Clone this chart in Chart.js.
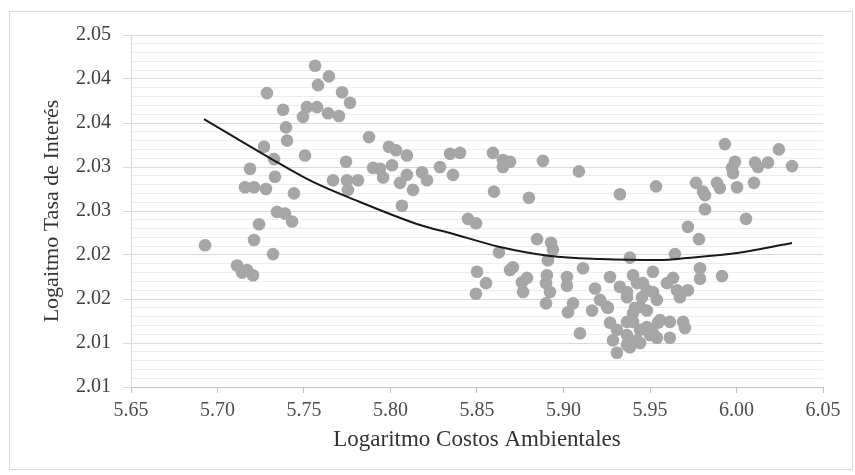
<!DOCTYPE html>
<html lang="es">
<head>
<meta charset="utf-8">
<title>Logaritmo Tasa de Interés vs Costos Ambientales</title>
<script src="https://cdn.jsdelivr.net/npm/chart.js@4.4.1/dist/chart.umd.min.js"></script>
<style>
    html, body { margin: 0; padding: 0; background: #fff; }
    canvas { display: block; }
</style>
</head>
<body>
<canvas id="scatterChart" width="855" height="475"></canvas>
<script>
// Datos
const costosX = [
    5.6928, 5.7113, 5.7142, 5.7170, 5.7205, 5.7211, 5.7321, 5.7159, 5.7211, 5.7240,
    5.7188, 5.7269, 5.7286, 5.7327, 5.7332, 5.7280, 5.7344, 5.7390, 5.7431, 5.7442,
    5.7379, 5.7396, 5.7402, 5.7494, 5.7517, 5.7575, 5.7564, 5.7644, 5.7581, 5.7720,
    5.7766, 5.7639, 5.7702, 5.7506, 5.7668, 5.7748, 5.7812, 5.7754, 5.7743, 5.7876,
    5.7991, 5.8032, 5.8095, 5.7899, 5.7939, 5.8009, 5.8095, 5.7957, 5.8055, 5.8130,
    5.8066, 5.8344, 5.8402, 5.8592, 5.8650, 5.8691, 5.8650, 5.8881, 5.9089, 5.8182,
    5.8211, 5.8286, 5.8361, 5.8598, 5.8800, 5.9326, 5.9535, 5.8448, 5.8494, 5.8847,
    5.8928, 5.8939, 5.8627, 5.8910, 5.9384, 5.9113, 5.8500, 5.8552, 5.8494, 5.8691,
    5.8708, 5.8760, 5.8789, 5.8766, 5.8904, 5.8899, 5.8922, 5.9020, 5.9020, 5.8899,
    5.9055, 5.9026, 5.9095, 5.9269, 5.9182, 5.9165, 5.9402, 5.9459, 5.9517, 5.9269,
    5.9309, 5.9286, 5.9402, 5.9442, 5.9309, 5.9367, 5.9442, 5.9402, 5.9482, 5.9211,
    5.9251, 5.9517, 5.9546, 5.9442, 5.9384, 5.9644, 5.9633, 5.9598, 5.9789, 5.9789,
    5.9916, 5.9326, 5.9367, 5.9425, 5.9482, 5.9454, 5.9540, 5.9517, 5.9656, 5.9719,
    5.9673, 5.9257, 5.9413, 5.9367, 5.9482, 5.9558, 5.9615, 5.9691, 5.9702, 5.9367,
    5.9425, 5.9500, 5.9540, 5.9615, 5.9367, 5.9933, 6.0245, 6.0321, 5.9991, 5.9974,
    5.9980, 6.0107, 6.0124, 6.0182, 6.0101, 5.9766, 5.9806, 5.9818, 5.9887, 5.9904,
    6.0003, 5.9818, 6.0055, 5.9719, 5.9783
];
const tasaY = [
    2.0211, 2.0188, 2.0180, 2.0183, 2.0177, 2.0217, 2.0201, 2.0277, 2.0277, 2.0235,
    2.0298, 2.0323, 2.0384, 2.0309, 2.0289, 2.0275, 2.0249, 2.0247, 2.0238, 2.0270,
    2.0365, 2.0345, 2.0330, 2.0357, 2.0368, 2.0368, 2.0415, 2.0403, 2.0393, 2.0385,
    2.0373, 2.0361, 2.0358, 2.0313, 2.0285, 2.0285, 2.0285, 2.0274, 2.0306, 2.0334,
    2.0323, 2.0319, 2.0313, 2.0299, 2.0298, 2.0302, 2.0291, 2.0288, 2.0282, 2.0274,
    2.0256, 2.0315, 2.0316, 2.0316, 2.0308, 2.0306, 2.0300, 2.0307, 2.0295, 2.0294,
    2.0285, 2.0300, 2.0291, 2.0272, 2.0265, 2.0269, 2.0278, 2.0241, 2.0236, 2.0218,
    2.0214, 2.0206, 2.0203, 2.0194, 2.0197, 2.0185, 2.0181, 2.0168, 2.0156, 2.0183,
    2.0186, 2.0169, 2.0174, 2.0158, 2.0177, 2.0168, 2.0158, 2.0175, 2.0165, 2.0145,
    2.0145, 2.0135, 2.0111, 2.0175, 2.0162, 2.0137, 2.0177, 2.0168, 2.0181, 2.0123,
    2.0115, 2.0103, 2.0124, 2.0115, 2.0089, 2.0152, 2.0141, 2.0134, 2.0137, 2.0149,
    2.0141, 2.0111, 2.0123, 2.0100, 2.0095, 2.0201, 2.0174, 2.0168, 2.0185, 2.0173,
    2.0176, 2.0164, 2.0158, 2.0168, 2.0160, 2.0152, 2.0149, 2.0158, 2.0160, 2.0160,
    2.0152, 2.0140, 2.0140, 2.0124, 2.0118, 2.0126, 2.0124, 2.0124, 2.0117, 2.0109,
    2.0103, 2.0109, 2.0106, 2.0106, 2.0098, 2.0326, 2.0320, 2.0301, 2.0306, 2.0299,
    2.0293, 2.0305, 2.0300, 2.0305, 2.0282, 2.0282, 2.0272, 2.0268, 2.0282, 2.0276,
    2.0277, 2.0252, 2.0241, 2.0232, 2.0218
];

// Línea de tendencia
const trendX = [5.6922, 5.7303, 5.7552, 5.7824, 5.8170, 5.8344, 5.8633, 5.8922, 5.9211, 5.9558, 5.9714, 6.0003, 6.0321];
const trendY = [2.03545, 2.03102, 2.02830, 2.02602, 2.02341, 2.02250, 2.02091, 2.01989, 2.01955, 2.01943, 2.01966, 2.02023, 2.02136];

// Ejes
const xMin = 5.65, xMax = 6.05, xStep = 0.05;
const yMin = 2.005, yMax = 2.045, yMinorStep = 0.001;
const yTickLabels = ['2.01', '2.01', '2.02', '2.02', '2.03', '2.03', '2.04', '2.04', '2.05'];

document.addEventListener('DOMContentLoaded', function () {
    Chart.defaults.font.family = "'Liberation Serif', 'Times New Roman', serif";
    Chart.defaults.color = '#404040';
    renderScatter();
});

// Marco exterior del gráfico
const chartBorder = {
    id: 'chartBorder',
    beforeDraw(chart) {
        const ctx = chart.ctx;
        ctx.save();
        ctx.fillStyle = '#fff';
        ctx.fillRect(0, 0, chart.width, chart.height);
        ctx.strokeStyle = '#d9d9d9';
        ctx.lineWidth = 1;
        ctx.strokeRect(9.5, 11.5, 843, 458);
        ctx.restore();
    }
};

function renderScatter() {
    const ctx = document.getElementById('scatterChart').getContext('2d');
    const points = costosX.map((x, i) => ({ x: x, y: tasaY[i] }));
    const trend = trendX.map((x, i) => ({ x: x, y: trendY[i] }));
    const isMajor = i => i % 5 === 0;

    new Chart(ctx, {
        type: 'scatter',
        data: {
            datasets: [{
                label: 'Tendencia',
                data: trend,
                showLine: true,
                borderColor: '#1a1a1a',
                borderWidth: 2,
                pointRadius: 0,
                tension: 0.4,
                cubicInterpolationMode: 'monotone'
            }, {
                label: 'Observaciones',
                data: points,
                backgroundColor: '#a6a6a6',
                borderWidth: 0,
                pointRadius: 6.3
            }]
        },
        options: {
            responsive: false,
            animation: false,
            devicePixelRatio: 1,
            layout: { padding: { top: 35, right: 32, left: 0, bottom: 0 } },
            plugins: {
                legend: { display: false },
                tooltip: { enabled: false }
            },
            scales: {
                x: {
                    type: 'linear',
                    min: xMin,
                    max: xMax,
                    afterFit: s => { s.height = 88; },
                    ticks: {
                        stepSize: xStep,
                        padding: 6,
                        color: '#4d4d4d',
                        font: { size: 20 },
                        callback: v => v.toFixed(2)
                    },
                    grid: {
                        display: true,
                        drawOnChartArea: false,
                        tickLength: 6,
                        tickColor: '#bfbfbf'
                    },
                    border: { color: '#bfbfbf', width: 1 },
                    title: {
                        display: true,
                        text: 'Logaritmo Costos Ambientales',
                        color: '#333333',
                        font: { size: 23 },
                        padding: { top: 0, bottom: 21 }
                    }
                },
                y: {
                    type: 'linear',
                    min: yMin,
                    max: yMax,
                    afterFit: s => { s.width = 131; },
                    afterBuildTicks: s => {
                        const n = Math.round((yMax - yMin) / yMinorStep);
                        s.ticks = [];
                        for (let i = 0; i <= n; i++) s.ticks.push({ value: yMin + i * yMinorStep });
                    },
                    ticks: {
                        autoSkip: false,
                        padding: 12,
                        color: '#404040',
                        font: { size: 20 },
                        callback: (v, i) => isMajor(i) ? yTickLabels[i / 5] : ''
                    },
                    grid: {
                        tickLength: 8,
                        color: c => isMajor(c.index) ? '#d9d9d9' : '#ededed',
                        tickColor: c => isMajor(c.index) ? '#d9d9d9' : 'rgba(0,0,0,0)'
                    },
                    border: { color: '#d9d9d9', width: 1 },
                    title: {
                        display: true,
                        text: 'Logaitmo Tasa de Interés',
                        color: '#333333',
                        font: { size: 22 },
                        padding: { top: 39, bottom: 0 }
                    }
                }
            }
        },
        plugins: [chartBorder]
    });
}
</script>
</body>
</html>
